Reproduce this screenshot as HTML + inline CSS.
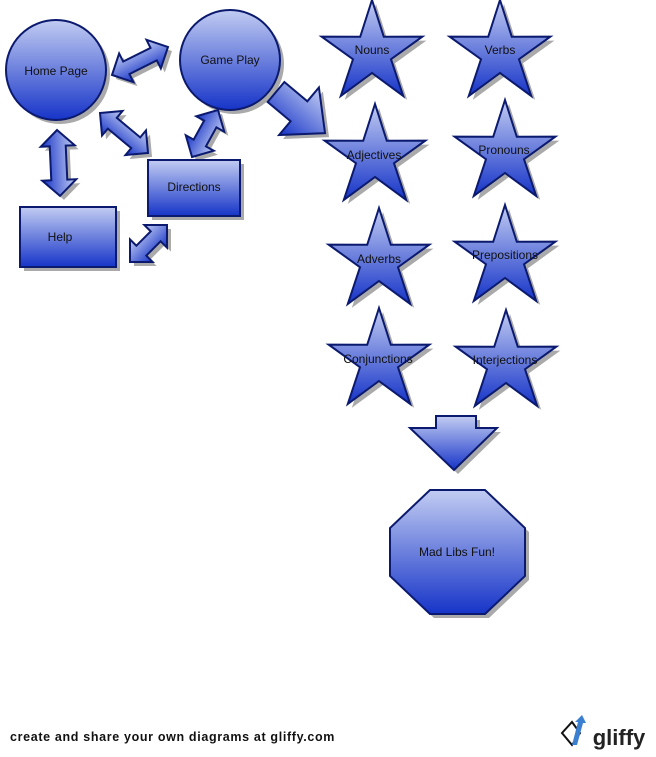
<!DOCTYPE html>
<html><head><meta charset="utf-8"><style>
body{margin:0;background:#fff;width:656px;height:752px;overflow:hidden}
text{font-family:"Liberation Sans",sans-serif;font-size:12px;fill:#111;text-anchor:middle}
</style></head><body>
<svg width="656" height="752" viewBox="0 0 656 752" xmlns="http://www.w3.org/2000/svg">
<defs>
<linearGradient id="g" x1="0" y1="0" x2="0" y2="1">
<stop offset="0" stop-color="#c2ccf2"/><stop offset="1" stop-color="#1634c8"/></linearGradient>
<path id="star" d="M0,-53 L11.8,-16.2 L50.4,-16.4 L19,6.2 L31.2,42.9 L0,20 L-31.2,42.9 L-19,6.2 L-50.4,-16.4 L-11.8,-16.2Z"/>
<polygon id="da" points="0,0 16,-16 16,-7 -16,-7 -16,-16 0,0"/>
</defs>
<g stroke="#0b1a6e" stroke-width="2" fill="url(#g)">
<g fill="#aaa" stroke="none" transform="translate(4,4)">
<circle cx="56" cy="70" r="50"/><circle cx="230" cy="60" r="50"/>
<rect x="148" y="160" width="92" height="56"/><rect x="20" y="207" width="96" height="60"/>
<polygon points="430,490 485,490 525,528 525,576 485,614 430,614 390,576 390,528"/>
<use href="#star" x="372" y="53"/><use href="#star" x="500" y="53"/>
<use href="#star" x="375" y="157"/><use href="#star" x="505" y="153"/>
<use href="#star" x="379" y="261"/><use href="#star" x="505" y="258"/>
<use href="#star" x="379" y="361"/><use href="#star" x="506" y="363"/>
<g transform="translate(112,75) rotate(-26.6)"><polygon points="0,0 16,-16 16,-7 46.6,-7 46.6,-16 62.6,0 46.6,16 46.6,7 16,7 16,16"/></g>
<g transform="translate(100,113) rotate(39.8)"><polygon points="0,0 16,-16 16,-7 46.5,-7 46.5,-16 62.5,0 46.5,16 46.5,7 16,7 16,16"/></g>
<g transform="translate(218,110) rotate(118.9)"><polygon points="0,0 16,-16 16,-7 37.7,-7 37.7,-16 53.7,0 37.7,16 37.7,7 16,7 16,16"/></g>
<g transform="translate(57,130) rotate(87.4)"><polygon points="0,0 16,-17 16,-8 50,-8 50,-17 66,0 50,17 50,8 16,8 16,17"/></g>
<g transform="translate(130,262) rotate(-45)"><polygon points="0,0 16,-16 16,-7 36.3,-7 36.3,-16 52.3,0 36.3,16 36.3,7 16,7 16,16"/></g>
<g transform="translate(276,92) rotate(40)"><polygon points="0,-13 30,-13 30,-31 64,0 30,31 30,13 0,13"/></g>
<polygon points="436,416 476,416 476,428 497,428 454,470 410,428 436,428"/>
</g>
<circle cx="56" cy="70" r="50"/><circle cx="230" cy="60" r="50"/>
<rect x="148" y="160" width="92" height="56"/><rect x="20" y="207" width="96" height="60"/>
<polygon points="430,490 485,490 525,528 525,576 485,614 430,614 390,576 390,528"/>
<use href="#star" x="372" y="53"/><use href="#star" x="500" y="53"/>
<use href="#star" x="375" y="157"/><use href="#star" x="505" y="153"/>
<use href="#star" x="379" y="261"/><use href="#star" x="505" y="258"/>
<use href="#star" x="379" y="361"/><use href="#star" x="506" y="363"/>
<g transform="translate(112,75) rotate(-26.6)"><polygon points="0,0 16,-16 16,-7 46.6,-7 46.6,-16 62.6,0 46.6,16 46.6,7 16,7 16,16"/></g>
<g transform="translate(100,113) rotate(39.8)"><polygon points="0,0 16,-16 16,-7 46.5,-7 46.5,-16 62.5,0 46.5,16 46.5,7 16,7 16,16"/></g>
<g transform="translate(218,110) rotate(118.9)"><polygon points="0,0 16,-16 16,-7 37.7,-7 37.7,-16 53.7,0 37.7,16 37.7,7 16,7 16,16"/></g>
<g transform="translate(57,130) rotate(87.4)"><polygon points="0,0 16,-17 16,-8 50,-8 50,-17 66,0 50,17 50,8 16,8 16,17"/></g>
<g transform="translate(130,262) rotate(-45)"><polygon points="0,0 16,-16 16,-7 36.3,-7 36.3,-16 52.3,0 36.3,16 36.3,7 16,7 16,16"/></g>
<g transform="translate(276,92) rotate(40)"><polygon points="0,-13 30,-13 30,-31 64,0 30,31 30,13 0,13"/></g>
<polygon points="436,416 476,416 476,428 497,428 454,470 410,428 436,428"/>
</g>
<text x="56" y="75">Home Page</text>
<text x="230" y="64">Game Play</text>
<text x="194" y="191">Directions</text>
<text x="60" y="241">Help</text>
<text x="372" y="54">Nouns</text>
<text x="500" y="54">Verbs</text>
<text x="374" y="159">Adjectives</text>
<text x="504" y="154">Pronouns</text>
<text x="379" y="263">Adverbs</text>
<text x="505" y="259">Prepositions</text>
<text x="378" y="363">Conjunctions</text>
<text x="505" y="364">Interjections</text>
<text x="457" y="556">Mad Libs Fun!</text>
<text x="10" y="741" style="text-anchor:start;font-weight:bold;font-size:12.5px;letter-spacing:0.6px" textLength="325">create and share your own diagrams at gliffy.com</text>
<polygon points="562,733 572,722 580,733 572,745" fill="none" stroke="#111" stroke-width="2"/>
<path d="M572,745 L578,722 L575,722 L582,715 L586,723 L583,723 L577,745Z" fill="#3b7fd1"/>
<text x="619" y="745" style="font-size:22px;font-weight:bold;fill:#222">gliffy</text>
</svg>
</body></html>
